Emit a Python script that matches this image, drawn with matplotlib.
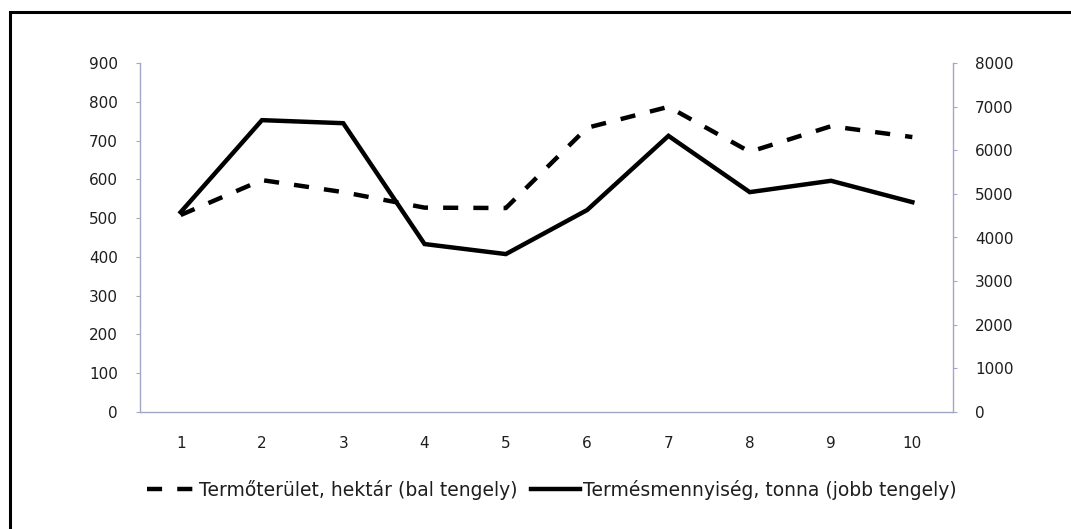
import matplotlib
matplotlib.use("Agg")
import matplotlib.pyplot as plt
from matplotlib.patches import Rectangle
from matplotlib.lines import Line2D

# Data
years = [1, 2, 3, 4, 5, 6, 7, 8, 9, 10]
terulet_ha = [508, 598, 567, 527, 526, 733, 787, 671, 737, 709]
termes_t = [4580, 6690, 6620, 3850, 3620, 4630, 6330, 5040, 5300, 4810]
left_ticks = [0, 100, 200, 300, 400, 500, 600, 700, 800, 900]
right_ticks = [0, 1000, 2000, 3000, 4000, 5000, 6000, 7000, 8000]
label_ha = "Termőterület, hektár (bal tengely)"
label_t = "Termésmennyiség, tonna (jobb tengely)"

W, H = 1071, 529
fig = plt.figure(figsize=(W / 100, H / 100), dpi=100)
fig.patch.set_facecolor("white")

ax = fig.add_axes([140 / W, 1 - 412 / H, (953 - 140) / W, (412 - 63) / H])
ax2 = ax.twinx()

spine_col = "#a4a6c6"
txt_col = "#1e1e1e"

l1, = ax.plot(years, terulet_ha, color="black", lw=3.2, linestyle=(0, (3.4, 3.4)),
              dash_capstyle="butt", zorder=3)
l2, = ax2.plot(years, termes_t, color="black", lw=3.2, solid_joinstyle="miter", zorder=3)

ax.set_xlim(0.5, 10.5)
ax.set_ylim(0, 900)
ax2.set_ylim(0, 8000)
ax.set_xticks(years)
ax.set_xticklabels([str(y) for y in years])
ax.set_yticks(left_ticks)
ax2.set_yticks(right_ticks)

for a in (ax, ax2):
    for s in a.spines.values():
        s.set_visible(False)
ax.spines["left"].set_visible(True)
ax.spines["bottom"].set_visible(True)
ax2.spines["right"].set_visible(True)
for s in (ax.spines["left"], ax.spines["bottom"], ax2.spines["right"]):
    s.set_color(spine_col)
    s.set_linewidth(1.0)

ax.tick_params(axis="x", length=0, pad=17, labelsize=11, labelcolor=txt_col)
ax.tick_params(axis="y", length=3, color=spine_col, pad=13, labelsize=11, labelcolor=txt_col)
ax2.tick_params(axis="y", length=3, color=spine_col, pad=13, labelsize=11, labelcolor=txt_col)

h1 = Line2D([], [], color="black", lw=3.2, linestyle=(0, (3.4, 3.4)), dash_capstyle="butt")
h2 = Line2D([], [], color="black", lw=3.2)
fig.legend([h1, h2], [label_ha, label_t], loc="center", bbox_to_anchor=(552 / W, 1 - 490 / H),
           ncol=2, frameon=False, fontsize=13.5, handlelength=2.6, handletextpad=0.2,
           columnspacing=0.7, labelcolor=txt_col)

# outer frame of the scanned chart
fig.patches.append(Rectangle((10 / W, -0.1), 1.2, 1 - 12 / H + 0.1, transform=fig.transFigure,
                             fill=False, edgecolor="black", lw=2.2))

fig.savefig("out.png", dpi=100, facecolor="white")
